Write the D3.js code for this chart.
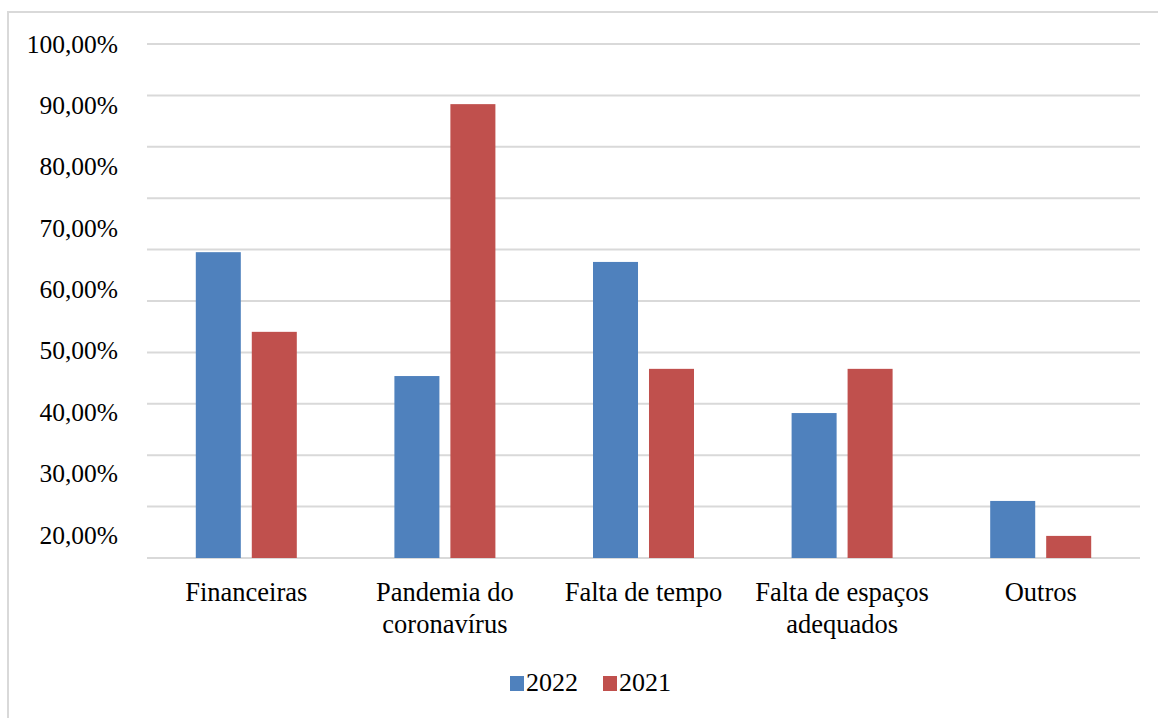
<!DOCTYPE html>
<html>
<head>
<meta charset="utf-8">
<script src="https://cdn.jsdelivr.net/npm/d3@7"></script>
<style>
  html, body { margin: 0; padding: 0; background: #fff; }
  svg { display: block; }
</style>
</head>
<body>
<svg id="chart" width="1158" height="718"></svg>
<script>
const categories = ["Financeiras", "Pandemia do\ncoronavírus", "Falta de tempo", "Falta de espaços\nadequados", "Outros"];
const seriesNames = ["2022", "2021"];
const values2022 = [59.5, 35.4, 57.6, 28.2, 11.1];
const values2021 = [44.0, 88.3, 36.8, 36.8, 4.3];
const gridTicks = [0, 10, 20, 30, 40, 50, 60, 70, 80, 90, 100];
const tickLabels = ["100,00%", "90,00%", "80,00%", "70,00%", "60,00%", "50,00%", "40,00%", "30,00%", "20,00%"];
const tickLabelValues = [100, 90, 80, 70, 60, 50, 40, 30, 20];
const colors = ["#4f81bd", "#c0504d"];

const FONT = "Liberation Serif";
const svg = d3.select("#chart");
const W = 1158, H = 718;

// outer chart border
svg.append("rect").attr("x", 8).attr("y", 12).attr("width", W + 10).attr("height", H + 10)
  .attr("fill", "#fff").attr("stroke", "#d9d9d9").attr("stroke-width", 2);

const plot = { left: 147, right: 1140, top: 44, bottom: 558 };

const y = d3.scaleLinear().domain([0, 100]).range([plot.bottom, plot.top]);
// the printed labels sit on their own spacing, not on the gridlines
const yLabel = d3.scaleLinear().domain([20, 100]).range([535, 44]);

const x0 = d3.scaleBand().domain(categories).range([plot.left, plot.right]).paddingInner(0).paddingOuter(0);
const x1 = d3.scaleBand().domain(seriesNames).range([0, 101]).paddingInner(0.196).paddingOuter(0);

// gridlines
svg.append("g").selectAll("line").data(gridTicks).join("line")
  .attr("x1", plot.left).attr("x2", plot.right)
  .attr("y1", d => y(d)).attr("y2", d => y(d))
  .attr("stroke", "#d9d9d9").attr("stroke-width", 2);

// y labels
svg.append("g").selectAll("text").data(tickLabelValues).join("text")
  .attr("x", 118).attr("y", d => yLabel(d))
  .attr("text-anchor", "end").attr("dominant-baseline", "central")
  .style("font-family", FONT).style("font-size", "25.5px").style("fill", "#000")
  .text((d, i) => tickLabels[i]);

// bars
const data = categories.map((c, i) => ({ c, vals: [values2022[i], values2021[i]] }));
const groups = svg.append("g").selectAll("g").data(data).join("g")
  .attr("transform", d => `translate(${x0(d.c) + x0.bandwidth() / 2 - 50.5},0)`);
groups.selectAll("rect").data(d => d.vals.map((v, j) => ({ s: seriesNames[j], v, j }))).join("rect")
  .attr("x", d => x1(d.s)).attr("width", x1.bandwidth())
  .attr("y", d => y(d.v)).attr("height", d => y(0) - y(d.v))
  .attr("fill", d => colors[d.j]);

// category labels
const catG = svg.append("g");
categories.forEach(c => {
  const lines = c.split("\n");
  const cx = x0(c) + x0.bandwidth() / 2;
  const t = catG.append("text")
    .attr("x", cx).attr("y", 601)
    .attr("text-anchor", "middle")
    .style("font-family", FONT).style("font-size", "26.5px").style("fill", "#000");
  lines.forEach((l, k) => {
    t.append("tspan").attr("x", cx).attr("dy", k === 0 ? 0 : 32).text(l);
  });
});

// legend
const legendX = [510, 603];
const leg = svg.append("g");
seriesNames.forEach((s, i) => {
  leg.append("rect").attr("x", legendX[i]).attr("y", 676).attr("width", 14).attr("height", 15).attr("fill", colors[i]);
  leg.append("text").attr("x", legendX[i] + 16).attr("y", 691)
    .style("font-family", FONT).style("font-size", "26px").style("fill", "#000").text(s);
});
</script>
</body>
</html>
